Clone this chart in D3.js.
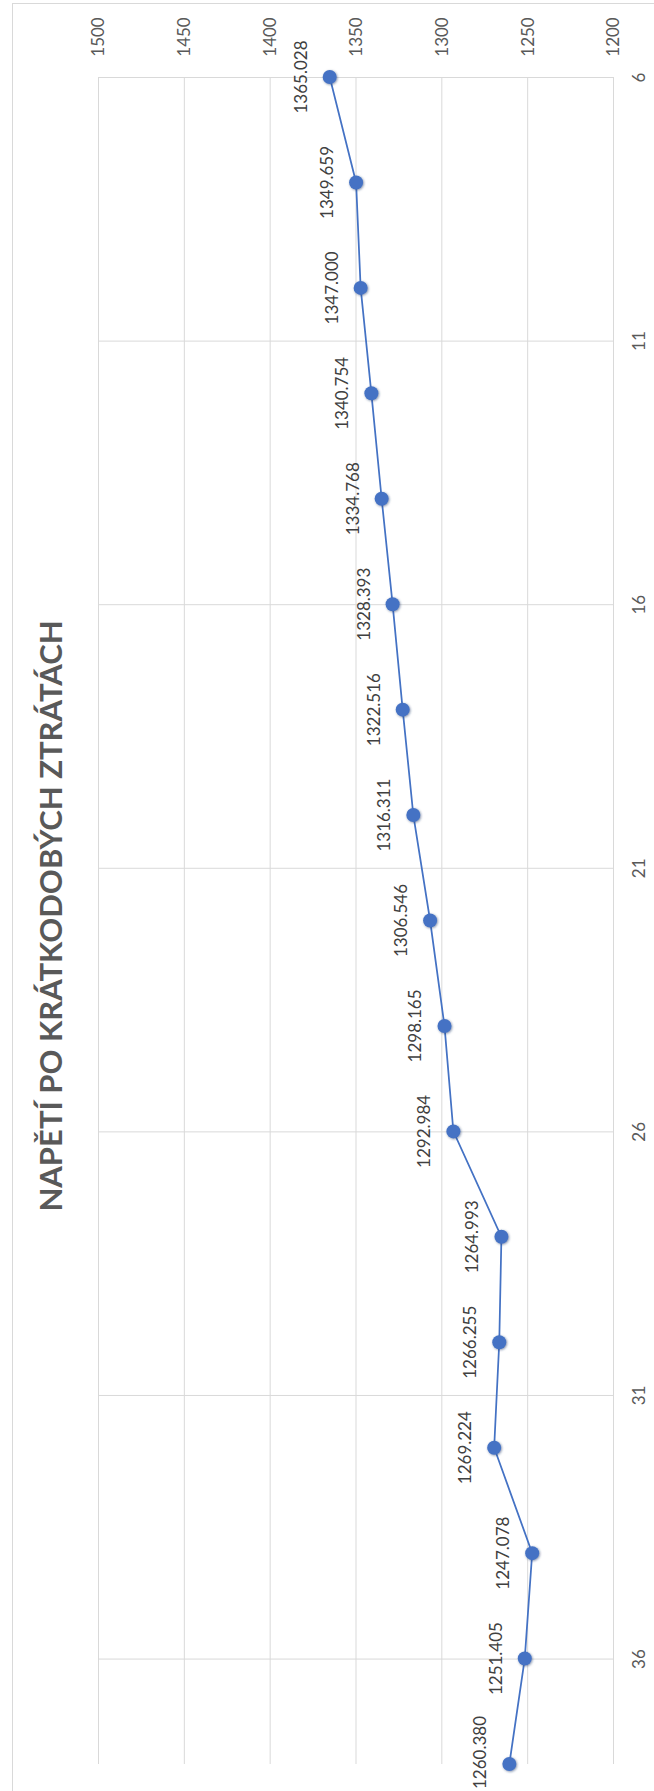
<!DOCTYPE html>
<html>
<head>
<meta charset="utf-8">
<script src="https://cdn.jsdelivr.net/npm/d3@7"></script>
<style>
  html, body { margin: 0; padding: 0; background: #ffffff; }
  svg { display: block; }
  text { font-family: Lato, "Open Sans", sans-serif; }
</style>
</head>
<body>
<svg id="chart" width="654" height="1791"></svg>
<script>
// Chart data
const title = "NAPĚTÍ PO KRÁTKODOBÝCH ZTRÁTÁCH";
const categories = [6, 8, 10, 12, 14, 16, 18, 20, 22, 24, 26, 28, 30, 32, 34, 36, 38];
const voltages = [1365.028, 1349.659, 1347.000, 1340.754, 1334.768, 1328.393, 1322.516,
                  1316.311, 1306.546, 1298.165, 1292.984, 1264.993, 1266.255, 1269.224,
                  1247.078, 1251.405, 1260.380];
const valueTicks = [1200, 1250, 1300, 1350, 1400, 1450, 1500];
const categoryTicks = [6, 11, 16, 21, 26, 31, 36];

const W = 654, H = 1791;
const svg = d3.select("#chart");

// The chart is laid out sideways: values run right-to-left, categories top-to-bottom
const plot = { left: 98, right: 613, top: 77, bottom: 1764 };
const x = d3.scaleLinear().domain([1200, 1500]).range([plot.right, plot.left]);
const y = d3.scaleLinear().domain([6, 38]).range([plot.top, plot.bottom]);

const grid = "#d9d9d9";
const axisText = "#595959";
const series = "#4472c4";

// chart area border
svg.append("rect")
  .attr("x", 12.5).attr("y", 3.5)
  .attr("width", 700).attr("height", 1800)
  .attr("fill", "none").attr("stroke", grid).attr("stroke-width", 1);

// value gridlines (vertical)
const vGrid = svg.append("g")
  .attr("transform", `translate(0,${plot.top})`)
  .call(d3.axisTop(x).tickValues(valueTicks).tickSize(-(plot.bottom - plot.top)).tickFormat(""));
vGrid.select(".domain").remove();
vGrid.selectAll(".tick line").attr("stroke", grid).attr("stroke-width", 1);

// category gridlines (horizontal)
const cGrid = svg.append("g")
  .attr("transform", `translate(${plot.left},0)`)
  .call(d3.axisLeft(y).tickValues(categoryTicks).tickSize(-(plot.right - plot.left)).tickFormat(""));
cGrid.select(".domain").remove();
cGrid.selectAll(".tick line").attr("stroke", grid).attr("stroke-width", 1);

// value axis labels along the top
const vAxis = svg.append("g")
  .attr("transform", "translate(0,37)")
  .call(d3.axisTop(x).tickValues(valueTicks).tickSize(0).tickFormat(d3.format("d")));
vAxis.select(".domain").remove();
vAxis.selectAll(".tick text")
  .attr("y", 0).attr("dy", "0.35em")
  .attr("transform", "rotate(-90)")
  .attr("text-anchor", "middle")
  .attr("fill", axisText)
  .style("font-size", "17px")
  .style("font-family", "Lato, 'Open Sans', sans-serif");

// category axis labels along the right
const cAxis = svg.append("g")
  .attr("transform", "translate(639,0)")
  .call(d3.axisRight(y).tickValues(categoryTicks).tickSize(0).tickFormat(d3.format("d")));
cAxis.select(".domain").remove();
cAxis.selectAll(".tick text")
  .attr("x", 0).attr("dy", "0.35em")
  .attr("transform", "rotate(-90)")
  .attr("text-anchor", "middle")
  .attr("fill", axisText)
  .style("font-size", "17px")
  .style("font-family", "Lato, 'Open Sans', sans-serif");

// title
svg.append("text")
  .attr("transform", "translate(62,916) rotate(-90)")
  .attr("text-anchor", "middle")
  .attr("fill", axisText)
  .style("font-size", "31px")
  .style("font-weight", "bold")
  .text(title);

const data = categories.map((c, i) => ({ c, v: voltages[i] }));

// soft marker shadow
const defs = svg.append("defs");
const f = defs.append("filter").attr("id", "mshadow")
  .attr("x", "-50%").attr("y", "-50%").attr("width", "200%").attr("height", "200%");
f.append("feDropShadow").attr("dx", 0.8).attr("dy", 0.8)
  .attr("stdDeviation", 1.2).attr("flood-color", "#1f3864").attr("flood-opacity", 0.55);

// series line
svg.append("path")
  .datum(data)
  .attr("fill", "none")
  .attr("stroke", series)
  .attr("stroke-width", 1.75)
  .attr("d", d3.line().x(d => x(d.v)).y(d => y(d.c)));

// markers
svg.append("g").selectAll("circle")
  .data(data).join("circle")
  .attr("cx", d => x(d.v)).attr("cy", d => y(d.c))
  .attr("r", 7)
  .attr("fill", series)
  .attr("filter", "url(#mshadow)");

// data labels, kept inside the chart area at the bottom edge
const labels = svg.append("g").selectAll("text")
  .data(data).join("text")
  .attr("text-anchor", "middle")
  .attr("dy", "0.35em")
  .attr("fill", "#404040")
  .style("font-size", "17px")
  .text(d => d3.format(".3f")(d.v));
labels.attr("transform", function(d) {
  const half = this.getComputedTextLength() / 2;
  const cy = Math.min(y(d.c), H - 2 - half);
  return `translate(${x(d.v) - 29},${cy}) rotate(-90)`;
});
</script>
</body>
</html>
